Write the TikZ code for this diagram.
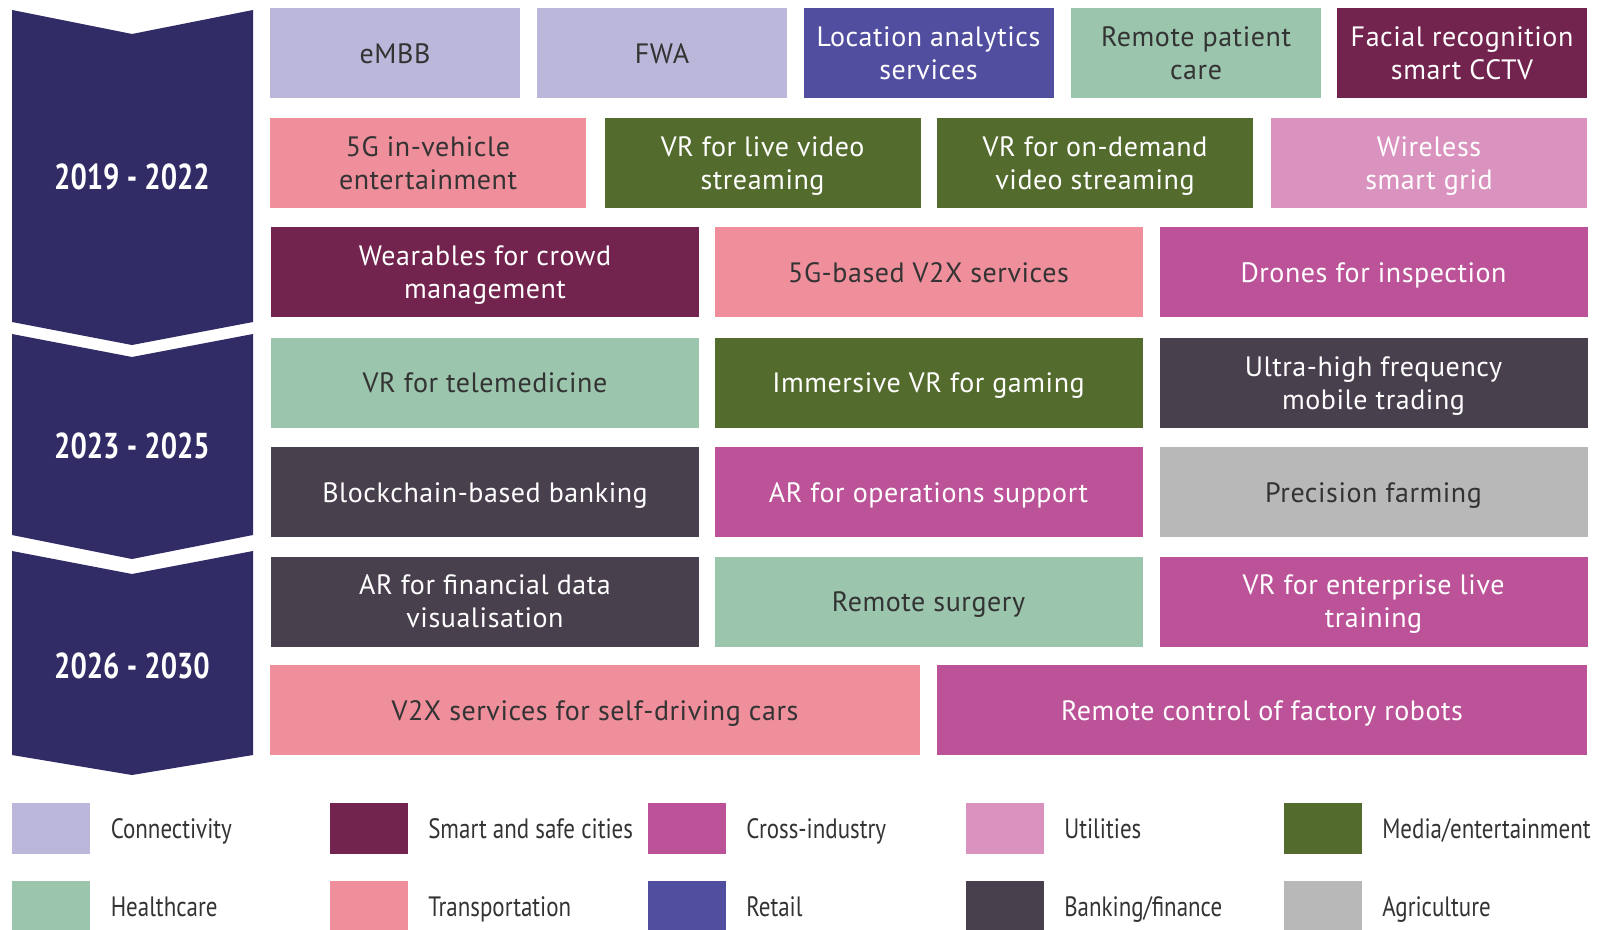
\documentclass[tikz,border=0pt]{standalone}
\usepackage{fontspec}
\usetikzlibrary{positioning}
\setmainfont{PT Sans}
\newfontfamily\boxfont[LetterSpace=2]{PT Sans}
\newfontfamily\legendfont[FakeStretch=0.82]{PT Sans}
\newfontfamily\periodfont[FakeStretch=0.8]{PT Sans}

\definecolor{chevnavy}{HTML}{312B66}
\definecolor{darktext}{HTML}{333333}
\definecolor{connC}{HTML}{BBB7DB}
\definecolor{cityC}{HTML}{72244E}
\definecolor{crossC}{HTML}{BC5298}
\definecolor{utilC}{HTML}{DA93BF}
\definecolor{mediaC}{HTML}{536B2D}
\definecolor{healthC}{HTML}{9CC5AE}
\definecolor{transpC}{HTML}{EF8F9C}
\definecolor{retailC}{HTML}{524E9F}
\definecolor{bankC}{HTML}{48404D}
\definecolor{agriC}{HTML}{B8B8B8}

\tikzset{usecase/.style={rectangle, inner sep=0pt, align=center,
        minimum height=45pt, font=\boxfont\fontsize{14}{16.5}\selectfont,
        execute at begin node={\rule{0pt}{10pt}}, text depth=0pt},
    conn/.style={usecase, fill=connC, text=darktext},
    city/.style={usecase, fill=cityC, text=white},
    cross/.style={usecase, fill=crossC, text=white},
    util/.style={usecase, fill=utilC, text=white},
    media/.style={usecase, fill=mediaC, text=white},
    health/.style={usecase, fill=healthC, text=darktext},
    transp/.style={usecase, fill=transpC, text=darktext},
    retail/.style={usecase, fill=retailC, text=white},
    bank/.style={usecase, fill=bankC, text=white},
    agri/.style={usecase, fill=agriC, text=darktext},
    five/.style={minimum width=125pt},
    four/.style={minimum width=158pt},
    three/.style={minimum width=214pt},
    two/.style={minimum width=325pt},
    period/.style={text=white, font=\periodfont\bfseries\fontsize{18}{20}\selectfont},
    swatch/.style={rectangle, inner sep=0pt, minimum width=39pt, minimum height=25.5pt},
    legtext/.style={text=darktext, inner sep=0pt, font=\legendfont\fontsize{14}{16}\selectfont,
        text height=10pt, text depth=0pt},
    }

\begin{document}
\begin{tikzpicture}[x=0.5pt,y=-0.5pt]
\useasboundingbox (0,0) rectangle (1599,930);

% time periods
\fill[chevnavy] (12,10) -- (132,34) -- (253,10) -- (253,322) -- (132,345) -- (12,322) -- cycle;
\fill[chevnavy] (12,334) -- (132,357) -- (253,334) -- (253,535) -- (132,559) -- (12,535) -- cycle;
\fill[chevnavy] (12,551) -- (132,574) -- (253,551) -- (253,755) -- (132,775) -- (12,755) -- cycle;
\node[period] (p1) at (132,177) {2019 - 2022};
\node[period] (p2) at (132,446) {2023 - 2025};
\node[period] (p3) at (132,666) {2026 - 2030};

% 2019 - 2022
\node[conn, five]   (embb)  at (395,53.5)    {eMBB};
\node[conn, five]   (fwa)   at (662,53.5)    {FWA};
\node[retail, five] (loc)   at (928.5,53.5)  {Location analytics\\services};
\node[health, five] (rpc)   at (1196,53.5)   {Remote patient\\care};
\node[city, five]   (face)  at (1462,53.5)   {Facial recognition\\smart CCTV};

\node[transp, four] (invehicle) at (428,163)    {5G in-vehicle\\entertainment};
\node[media, four]  (vrlive)    at (762.5,163)  {VR for live video\\streaming};
\node[media, four]  (vrdemand)  at (1095,163)   {VR for on-demand\\video streaming};
\node[util, four]   (grid)      at (1429,163)   {Wireless\\smart grid};

\node[city, three]   (wear)   at (485,272.5)    {Wearables for crowd\\management};
\node[transp, three] (vtox)   at (928.5,272.5)  {5G-based V2X services};
\node[cross, three]  (drones) at (1373.5,272.5) {Drones for inspection};

% 2023 - 2025
\node[health, three] (telemed) at (485,383)    {VR for telemedicine};
\node[media, three]  (gaming)  at (928.5,383)  {Immersive VR for gaming};
\node[bank, three]   (trading) at (1373.5,383) {Ultra-high frequency\\mobile trading};

\node[bank, three]  (chain)   at (485,492)    {Blockchain-based banking};
\node[cross, three] (arops)   at (928.5,492)  {AR for operations support};
\node[agri, three]  (farming) at (1373.5,492) {Precision farming};

% 2026 - 2030
\node[bank, three]   (arfin)    at (485,601.5)    {AR for financial data\\visualisation};
\node[health, three] (surgery)  at (928.5,601.5)  {Remote surgery};
\node[cross, three]  (training) at (1373.5,601.5) {VR for enterprise live\\training};

\node[transp, two] (selfdrive) at (595,710)  {V2X services for self-driving cars};
\node[cross, two]  (robots)    at (1262,710) {Remote control of factory robots};

% legend
\foreach \sty/\name/\lab/\x/\y in {
    conn/lconn/Connectivity/51/828.5,
    city/lcity/Smart and safe cities/368.5/828.5,
    cross/lcross/Cross-industry/686.5/828.5,
    util/lutil/Utilities/1004.5/828.5,
    media/lmedia/Media\slash entertainment/1322.5/828.5,
    health/lhealth/Healthcare/51/906,
    transp/ltransp/Transportation/368.5/906,
    retail/lretail/Retail/686.5/906,
    bank/lbank/Banking\slash finance/1004.5/906,
    agri/lagri/Agriculture/1322.5/906}{
  \node[\sty, swatch] (\name) at (\x,\y) {};
  \node[legtext, right=10pt of \name] (\name-t) {\lab};
}
\end{tikzpicture}
\end{document}
